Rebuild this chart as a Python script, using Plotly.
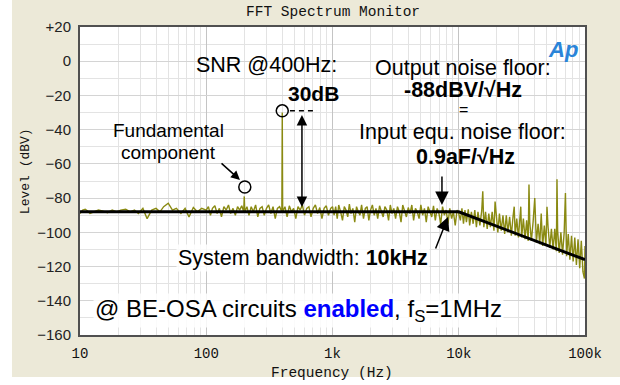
import plotly.graph_objects as go

# ---------------- data ----------------
freq_d1 = [10, 10.5, 11, 11.5, 12, 13, 14, 15, 16.5, 18, 19.5, 21, 23, 25, 27, 29, 31.5, 34, 37, 40,
           43, 46, 50, 54, 58, 63, 68, 73, 79, 85, 92, 100]
level_d1 = [-89, -87, -86.5, -87.5, -89, -88, -87, -87.5, -88.5, -87, -88, -87, -86.5, -88, -87, -89,
            -86, -92, -87, -86, -88, -85, -83, -87, -86, -89, -86, -91, -85.5, -88, -86, -87]

freq_d2 = [104, 108, 112, 117, 122, 127, 132, 138, 144, 150, 156, 163, 170, 177, 184, 191, 198, 200,
           202, 210, 218, 227, 236, 246, 256, 266, 277, 288, 300, 312, 325, 338, 352, 366, 381, 397,
           400, 403, 420, 437, 455, 473, 492, 512, 533, 555, 577, 600, 625, 650, 676, 704, 732, 762,
           793, 825, 858, 893, 929, 967, 1000]
level_d2 = [-85, -90, -86, -84.5, -89, -86, -91, -85, -87, -84, -89, -86, -90, -85, -87, -84.5, -88,
            -79, -88, -85, -90, -85, -88, -84, -91, -86, -85, -90, -86, -84, -89, -85, -92, -86, -85,
            -88, -30, -88, -85, -91, -84.5, -88, -86, -92, -85, -87, -84, -90, -86, -85, -91, -86,
            -84, -89, -85.5, -92, -86, -84.5, -90, -86, -85]

freq_d3 = [1030, 1060, 1090, 1120, 1160, 1200, 1240, 1280, 1320, 1360, 1400, 1450, 1500, 1550, 1600,
           1650, 1700, 1760, 1820, 1880, 1940, 2000, 2070, 2140, 2210, 2280, 2360, 2440, 2520, 2600,
           2690, 2780, 2870, 2960, 3060, 3160, 3270, 3380, 3490, 3600, 3720, 3850, 3980, 4110, 4250,
           4390, 4540, 4690, 4850, 5010, 5180, 5350, 5530, 5720, 5910, 6110, 6310, 6520, 6740, 6970,
           7200, 7440, 7690, 7950, 8220, 8490, 8780, 9070, 9380, 9690, 10000]
level_d3 = [-90, -85, -92, -84, -88, -93, -85, -87, -91, -83.5, -89, -86, -94, -85, -88, -90, -84,
            -92, -86, -85, -93, -87, -84, -90, -86, -92, -84.5, -88, -91, -85, -87, -93, -84, -89,
            -86, -92, -85, -88, -94, -84, -87, -91, -85.5, -89, -84, -93, -86, -88, -92, -84, -90,
            -86, -94, -85, -88, -91, -84.5, -93, -86, -89, -95, -85, -90, -87, -95, -86, -92, -88,
            -96, -87, -89]

freq_d4 = [10300, 10600, 10900, 11200, 11500, 11900, 12200, 12600, 13000, 13400, 13800, 14200, 14700,
           15200, 15500, 15800, 16300, 16800, 17300, 17800, 18400, 19000, 19400, 19800, 20400, 21000,
           21700, 22400, 23100, 23800, 24500, 25300, 26100, 26900, 27500, 28000, 28800, 29700, 30500,
           31000, 31500, 32500, 33500, 34500, 35500, 36000, 36500, 37600, 38800, 40000, 41200, 42500,
           43800, 45000, 46200, 47600, 49000, 50000, 51000, 52600, 54200, 55900, 57600, 59300, 60000,
           60700, 62500, 64400, 66400, 68400, 70000, 71500, 73700, 75900, 78200, 80600, 83000, 85500,
           88100, 90800, 93500, 96300, 99000, 100000]
level_d4 = [-93, -86, -95, -87, -94, -86.5, -96, -88, -95, -87, -97, -88, -96, -87.5, -76, -97, -88,
            -98, -89, -97, -88, -99, -82, -89, -100, -89, -99, -90, -101, -90, -100, -91, -102, -91,
            -85, -102, -92, -103, -91, -85, -103, -92, -104, -93, -105, -72, -94, -105, -94, -80,
            -106, -95, -107, -89, -108, -96, -108, -85, -97, -109, -98, -110, -98, -111, -69, -99,
            -112, -100, -113, -100, -77, -114, -101, -116, -102, -117, -103, -119, -104, -121, -105,
            -123, -127, -108]

model_freq = [10, 10000, 100000]
model_level = [-88, -88, -116]

marker_freq = [202, 400]
marker_level = [-73.5, -29]

x_tickvals = [10, 100, 1000, 10000, 100000]
x_ticktext = ["10", "100", "1k", "10k", "100k"]
y_tickvals = [20, 0, -20, -40, -60, -80, -100, -120, -140, -160]
y_ticktext = ["+20", "0", "\u221220", "\u221240", "\u221260", "\u221280", "\u2212100", "\u2212120",
              "\u2212140", "\u2212160"]

freq = freq_d1 + freq_d2 + freq_d3 + freq_d4
level = level_d1 + level_d2 + level_d3 + level_d4

SANS = "Liberation Sans"
MONO = "Liberation Mono"

fig = go.Figure()
fig.add_trace(go.Scatter(x=freq, y=level, mode="lines",
                         line=dict(color="#8a8a12", width=1.4), hoverinfo="skip"))
fig.add_trace(go.Scatter(x=model_freq, y=model_level, mode="lines",
                         line=dict(color="black", width=3), hoverinfo="skip"))
fig.add_trace(go.Scatter(x=marker_freq, y=marker_level, mode="markers",
                         marker=dict(symbol="circle-open", size=12, color="black",
                                     line=dict(width=1.5, color="black")), hoverinfo="skip"))
# dashed reference line next to the 400 Hz peak
fig.add_trace(go.Scatter(x=[460, 753], y=[-29, -29], mode="lines",
                         line=dict(color="black", width=1.5, dash="5px,4px"), hoverinfo="skip"))

fig.update_layout(
    width=620, height=385,
    margin=dict(l=80, r=35, t=27, b=50),
    paper_bgcolor="#ECE9D8", plot_bgcolor="white",
    showlegend=False,
    xaxis=dict(type="log", range=[1, 5], tickvals=x_tickvals, ticktext=x_ticktext,
               tickfont=dict(family=MONO, size=14, color="#111"),
               showgrid=True, gridcolor="#c4c4c4", gridwidth=1,
               minor=dict(dtick="D1", showgrid=True, gridcolor="#e3e3e3", ticks=""),
               showline=True, linecolor="#505050", linewidth=2, mirror=True,
               ticks="outside", ticklen=4, tickcolor="rgba(0,0,0,0)", zeroline=False),
    yaxis=dict(range=[-160, 20], tickvals=y_tickvals, ticktext=y_ticktext,
               tickfont=dict(family=SANS, size=15, color="#222"),
               showgrid=True, gridcolor="#d4d4d4", gridwidth=1,
               minor=dict(dtick=10, tick0=0, showgrid=True, gridcolor="#e3e3e3", ticks=""),
               showline=True, linecolor="#505050", linewidth=2, mirror=True,
               ticks="outside", ticklen=4, tickcolor="rgba(0,0,0,0)", zeroline=False),
)

ann = []
# titles
ann.append(dict(text="FFT Spectrum Monitor", xref="paper", yref="paper", x=0.5, y=1.0487,
                showarrow=False, font=dict(family=MONO, size=14.5, color="#111"),
                xanchor="center", yanchor="middle"))
ann.append(dict(text="Frequency (Hz)", xref="paper", yref="paper", x=0.499, y=-0.1234,
                showarrow=False, font=dict(family=MONO, size=14.5, color="#111"),
                xanchor="center", yanchor="middle"))
ann.append(dict(text="Level (dBV)", xref="paper", yref="paper", x=-0.1089, y=0.532,
                showarrow=False, textangle=-90, font=dict(family=MONO, size=13, color="#111"),
                xanchor="center", yanchor="middle"))
# logo
ann.append(dict(text="<b><i>Ap</i></b>", xref="x", yref="y", x=4.826, y=6.6, showarrow=False,
                font=dict(family=SANS, size=22, color="#2a84d8"), xanchor="center", yanchor="middle"))

def txt(s, lx, y, size=21.5, color="black", bg=None):
    d = dict(text=s, xref="x", yref="y", x=lx, y=y, showarrow=False,
             font=dict(family=SANS, size=size, color=color), xanchor="center", yanchor="middle")
    if bg:
        d["bgcolor"] = bg
    ann.append(d)

txt("SNR @400Hz:", 2.481, -2.2)
txt("<b>30dB</b>", 2.853, -18.6, size=21)
txt("Output noise floor:", 4.034, -4.0)
txt("<b>-88dBV/\u221aHz</b>", 4.034, -16.8)
txt("=", 4.034, -28.2, size=16)
txt("Input equ. noise floor:", 4.027, -41.4)
txt("<b>0.9aF/\u221aHz</b>", 4.05, -56.0)
txt("Fundamental", 1.697, -40.2, size=19)
txt("component", 1.697, -53.05, size=19)
txt("System bandwidth: <b>10kHz</b>", 2.766, -115.0, size=21.5, bg="rgba(255,255,255,0.85)")
txt("@ BE-OSA circuits <b><span style='color:#0000ff'>enabled</span></b>, f<sub>S</sub>=1MHz",
    2.727, -145.4, size=24, bg="rgba(255,255,255,0.85)")

def arrow(hx, hy, tx, ty, size=1.5, both=False):
    d = dict(text="", xref="x", yref="y", axref="x", ayref="y", x=hx, y=hy, ax=tx, ay=ty,
             showarrow=True, arrowhead=2, arrowsize=size, arrowwidth=1.5, arrowcolor="black")
    if both:
        d["arrowside"] = "end+start"
        d["startarrowhead"] = 2
        d["startarrowsize"] = size
    ann.append(d)

arrow(2.758, -85.2, 2.758, -30.6, size=1.4, both=True)
arrow(3.867, -84.0, 3.867, -66.5, size=1.8)
arrow(3.915, -91.0, 3.812, -110.3, size=1.8)
arrow(2.267, -69.4, 2.109, -58.9, size=1.2)

fig.update_layout(annotations=ann)

# white margins outside the beige panel
fig.add_shape(type="rect", xref="paper", yref="paper", x0=-0.3, x1=-0.1347, y0=-0.3, y1=1.3,
              fillcolor="white", line=dict(width=0), layer="above")
fig.add_shape(type="rect", xref="paper", yref="paper", x0=-0.3, x1=1.3, y0=-0.3, y1=-0.1364,
              fillcolor="white", line=dict(width=0), layer="above")

fig.write_html("out.html", config={"displayModeBar": False},
               post_script="document.body.style.margin='0';")
